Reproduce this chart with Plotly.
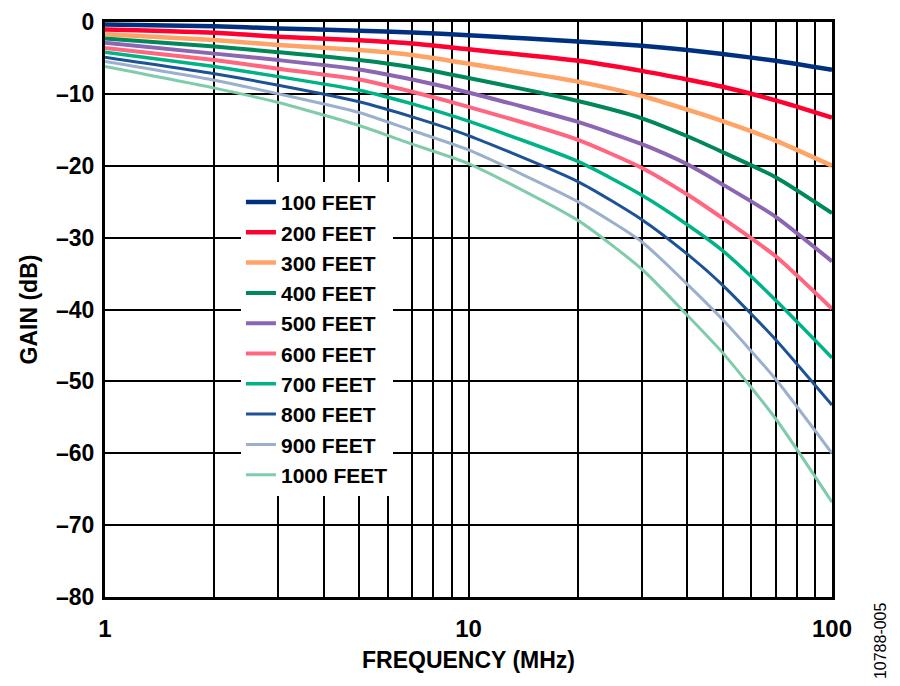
import plotly.graph_objects as go

# Frequency points (MHz)
freq = [1, 2, 3, 5, 7, 10, 20, 30, 40, 50, 70, 100]

# Gain (dB) per cable length
gain_100 = [-0.35, -0.6, -0.9, -1.2, -1.45, -1.85, -2.7, -3.3, -3.9, -4.45, -5.4, -6.65]
gain_200 = [-1.05, -1.5, -2.05, -2.55, -3.0, -3.8, -5.4, -6.8, -8.0, -9.0, -10.9, -13.3]
gain_300 = [-1.7, -2.5, -3.2, -3.9, -4.6, -5.8, -8.3, -10.3, -12.2, -13.8, -16.5, -20.0]
gain_400 = [-2.3, -3.4, -4.2, -5.3, -6.3, -7.8, -11.0, -13.4, -15.9, -18.1, -21.6, -26.6]
gain_500 = [-2.9, -4.4, -5.3, -6.6, -8.0, -9.8, -13.9, -17.0, -19.8, -22.6, -27.1, -33.3]
gain_600 = [-3.6, -5.3, -6.5, -8.0, -9.7, -11.8, -16.4, -20.3, -24.0, -27.3, -32.6, -39.9]
gain_700 = [-4.2, -6.2, -7.6, -9.5, -11.4, -13.8, -19.4, -24.1, -28.2, -31.8, -38.7, -46.7]
gain_800 = [-4.9, -7.2, -8.8, -11.1, -13.2, -15.8, -22.2, -27.5, -32.3, -36.6, -44.2, -53.3]
gain_900 = [-5.5, -8.1, -10.0, -12.6, -15.1, -17.8, -25.0, -30.6, -36.5, -41.4, -49.7, -60.0]
gain_1000 = [-6.2, -9.2, -11.2, -14.4, -17.0, -19.7, -27.6, -34.4, -40.8, -46.0, -55.2, -66.8]

names = ["100 FEET", "200 FEET", "300 FEET", "400 FEET", "500 FEET",
         "600 FEET", "700 FEET", "800 FEET", "900 FEET", "1000 FEET"]
series = [gain_100, gain_200, gain_300, gain_400, gain_500,
          gain_600, gain_700, gain_800, gain_900, gain_1000]
colors = ["#00307F", "#FF0030", "#FFA467", "#00875A", "#8C65B3",
          "#FF6680", "#00B386", "#1D5396", "#9BB0CD", "#80CCAA"]
widths = [4.5, 4.5, 4.5, 4, 4, 4, 3.5, 3, 3, 3]

x_tickvals = [1, 2, 3, 4, 5, 6, 7, 8, 9, 10, 20, 30, 40, 50, 60, 70, 80, 90, 100]
x_ticktext = ["1", "", "", "", "", "", "", "", "", "10",
              "", "", "", "", "", "", "", "", "100"]
y_tickvals = [-80, -70, -60, -50, -40, -30, -20, -10, 0]
y_ticktext = ["–80", "–70", "–60", "–50", "–40", "–30", "–20", "–10", "0"]

fig = go.Figure()

for name, ys, c, w in zip(names, series, colors, widths):
    fig.add_scatter(
        x=freq,
        y=ys,
        name=name,
        mode="lines",
        line=dict(color=c, width=w, shape="spline", smoothing=0.6),
    )

fig.update_xaxes(
    type="log",
    range=[0, 2],
    tickmode="array",
    tickvals=x_tickvals,
    ticktext=x_ticktext,
    showgrid=True,
    gridcolor="black",
    gridwidth=2,
    showline=True,
    linecolor="black",
    linewidth=3,
    mirror=True,
    zeroline=False,
    automargin=False,
    ticklabeloverflow="allow",
    ticks="",
    ticklabelstandoff=8,
    tickfont=dict(size=24),
    title=dict(text="FREQUENCY (MHz)", font=dict(size=23), standoff=12),
)
fig.update_yaxes(
    range=[-80, 0],
    tickmode="array",
    tickvals=y_tickvals,
    ticktext=y_ticktext,
    showgrid=True,
    gridcolor="black",
    gridwidth=2,
    showline=True,
    linecolor="black",
    linewidth=3,
    mirror=True,
    zeroline=False,
    automargin=False,
    ticklabeloverflow="allow",
    ticks="",
    ticklabelstandoff=3,
    tickfont=dict(size=23),
    title=dict(text="GAIN (dB)", font=dict(size=23), standoff=12),
)

fig.add_annotation(
    text="10788-005",
    xref="paper", yref="paper",
    x=1.066, y=-0.075,
    xanchor="center", yanchor="middle",
    textangle=-90,
    showarrow=False,
    font=dict(size=16, weight="normal", color="black"),
)

# page body adds an 8px offset, so the figure is 8px smaller on each side
fig.update_layout(
    width=892,
    height=678,
    margin=dict(l=97, r=68, t=14, b=89),
    font=dict(family="Liberation Sans, Arial, sans-serif", color="black", weight="bold"),
    plot_bgcolor="white",
    paper_bgcolor="white",
    legend=dict(
        x=0.187,
        y=0.722,
        xanchor="left",
        yanchor="top",
        bgcolor="white",
        font=dict(size=21),
        tracegroupgap=0,
    ),
)

fig.write_html("out.html")
